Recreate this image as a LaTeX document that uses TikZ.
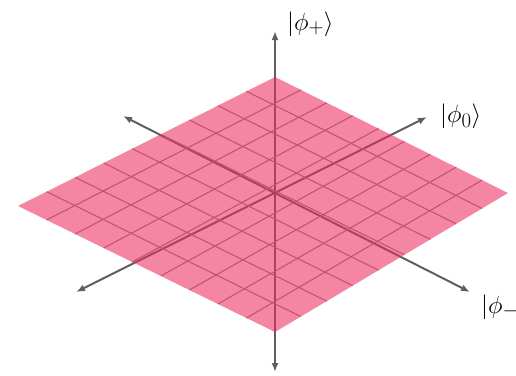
\documentclass[tikz,border=0pt]{standalone}
\usepackage{tikz}
\usetikzlibrary{calc,arrows.meta}
\definecolor{axisgray}{RGB}{95,95,95}
\definecolor{meshgray}{RGB}{140,140,140}
\definecolor{planepink}{RGB}{236,40,92}

\begin{document}
\begin{tikzpicture}[
    x=1pt, y=-1pt,
    axis/.style={{Latex[length=9pt,width=7pt]}-{Latex[length=9pt,width=7pt]}, line width=2pt, draw=axisgray},
    mesh/.style={line width=1.1pt, draw=meshgray},
    plane/.style={fill=planepink, fill opacity=0.56},
    ket/.style={anchor=west, inner sep=0pt, font=\fontsize{24.88}{30}\selectfont}
]
\useasboundingbox (0,0) rectangle (516,375);

% corners of the plane
\coordinate (top) at (275,77);
\coordinate (right) at (508,193);
\coordinate (bottom) at (275,332);
\coordinate (left) at (18,206);

% axis end points
\coordinate (plusEnd) at (275,31);
\coordinate (plusStart) at (275,372);
\coordinate (zeroEnd) at (427,117);
\coordinate (zeroStart) at (76,292);
\coordinate (minusEnd) at (470,292);
\coordinate (minusStart) at (123,116);

\draw[axis] (plusStart) -- (plusEnd);
\draw[axis] (zeroStart) -- (zeroEnd);
\draw[axis] (minusStart) -- (minusEnd);

% grid on the plane
\foreach \i in {1,...,8} {
    \pgfmathsetmacro\f{\i/9}
    \draw[mesh] ($(top)!\f!(right)$) -- ($(left)!\f!(bottom)$);
    \draw[mesh] ($(top)!\f!(left)$) -- ($(right)!\f!(bottom)$);
}

\fill[plane] (top) -- (right) -- (bottom) -- (left) -- cycle;

\node[ket] (kplus) at (287,24) {$|\phi_+\rangle$};
\node[ket] (kzero) at (440,116) {$|\phi_0\rangle$};
\node[ket] (kminus) at (481,307) {$|\phi_-\rangle$};

\end{tikzpicture}
\end{document}
